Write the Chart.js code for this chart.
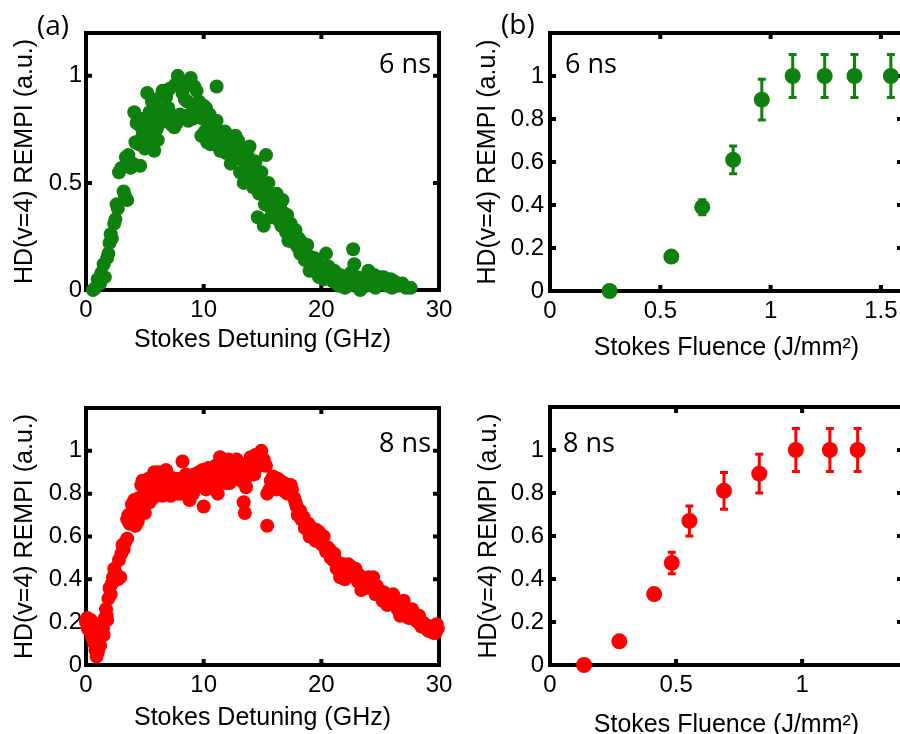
<!DOCTYPE html>
<html>
<head>
<meta charset="utf-8">
<title>HD(v=4) REMPI vs Stokes detuning and fluence</title>
<script src="https://cdn.jsdelivr.net/npm/chart.js@4.4.1/dist/chart.umd.min.js"></script>
<style>
  html, body { margin: 0; padding: 0; background: #fff; }
  #wrap { position: relative; width: 900px; height: 734px; overflow: hidden; }
  #wrap canvas { position: absolute; left: 0; top: 0; }
</style>
</head>
<body>
<div id="wrap">
  <canvas id="panelA6" width="900" height="734"></canvas>
  <canvas id="panelB6" width="920" height="740"></canvas>
  <canvas id="panelA8" width="900" height="734"></canvas>
  <canvas id="panelB8" width="920" height="740"></canvas>
</div>
<script>
// (a) 6 ns: detuning scan
const detuning6 = [
  0.6, 0.8, 1.0, 1.2, 1.3, 1.5, 1.6, 1.8, 1.9, 2.0,
  2.1, 2.2, 2.4, 2.5, 2.6, 2.7, 2.8, 3.0, 3.2, 3.3,
  3.4, 3.5, 3.6, 3.8, 4.0, 4.1, 4.2, 4.3, 4.5, 4.6,
  4.7, 4.8, 4.9, 5.0, 5.1, 5.2, 5.3, 5.5, 5.6, 5.8,
  5.9, 6.0, 6.2, 6.4, 6.5, 6.7, 6.8, 7.0, 7.1, 7.3,
  7.5, 7.6, 7.8, 7.9, 8.1, 8.2, 8.4, 8.5, 8.7, 8.9,
  9.0, 9.2, 9.4, 9.5, 9.7, 9.8, 10.0, 10.2, 10.3, 10.5,
  10.6, 10.8, 11.1, 11.1, 11.3, 11.4, 11.6, 11.8, 12.0, 12.2,
  12.3, 12.5, 12.7, 12.8, 13.0, 13.2, 13.4, 13.5, 13.7, 13.9,
  14.1, 14.3, 14.5, 14.6, 14.8, 15.0, 15.1, 15.3, 15.4, 15.6,
  15.8, 16.0, 16.2, 16.3, 16.5, 16.7, 16.9, 17.1, 17.2, 17.4,
  17.6, 17.8, 18.0, 18.2, 18.4, 18.6, 18.8, 19.0, 19.2, 19.4,
  19.6, 19.8, 20.0, 20.2, 20.4, 20.6, 20.8, 21.0, 21.3, 21.5,
  21.8, 22.0, 22.2, 22.5, 22.7, 22.8, 23.0, 23.3, 23.5, 23.8,
  24.0, 24.2, 24.5, 24.8, 25.0, 25.3, 25.6, 25.9, 26.2, 26.5,
  26.9, 27.2, 27.6,
  4.4, 5.4, 6.1, 6.3, 6.9, 7.2, 7.7, 8.0, 8.3, 8.6,
  9.1, 9.3, 9.6, 9.9, 10.1, 10.4, 10.9, 11.2, 11.5, 11.9,
  12.1, 12.4, 12.6, 12.9, 13.1, 13.3, 13.6, 13.8, 14.0, 14.2,
  14.4, 14.7, 14.9, 15.2, 15.5, 15.7, 16.1, 16.4, 16.6, 16.8,
  17.0, 17.3, 17.7, 18.1, 18.5, 18.9, 19.3, 19.7, 20.1, 20.5,
  21.1, 21.6, 22.3, 23.1, 23.9, 24.6, 25.4, 26.0
];
const rempi6 = [
  0.00, 0.01, 0.05, 0.03, 0.08, 0.12, 0.06, 0.15, 0.17, 0.22,
  0.26, 0.24, 0.31, 0.33, 0.40, 0.38, 0.55, 0.57, 0.46, 0.44,
  0.62, 0.42, 0.63, 0.57, 0.59, 0.83, 0.69, 0.78, 0.68, 0.58,
  0.76, 0.72, 0.80, 0.66, 0.74, 0.92, 0.78, 0.71, 0.88, 0.65,
  0.89, 0.75, 0.82, 0.84, 0.93, 0.79, 0.90, 0.85, 0.94, 0.77,
  0.76, 0.96, 1.00, 0.80, 0.97, 0.92, 0.89, 0.81, 0.79, 0.99,
  0.83, 0.95, 0.93, 0.81, 0.84, 0.72, 0.86, 0.85, 0.69, 0.82,
  0.68, 0.76, 0.95, 0.79, 0.74, 0.65, 0.72, 0.74, 0.67, 0.69,
  0.59, 0.71, 0.72, 0.65, 0.68, 0.61, 0.50, 0.66, 0.58, 0.67,
  0.55, 0.54, 0.56, 0.34, 0.50, 0.47, 0.30, 0.63, 0.45, 0.39,
  0.44, 0.36, 0.45, 0.33, 0.40, 0.42, 0.30, 0.35, 0.23, 0.31,
  0.26, 0.28, 0.20, 0.17, 0.22, 0.14, 0.21, 0.09, 0.12, 0.15,
  0.14, 0.06, 0.11, 0.05, 0.17, 0.11, 0.08, 0.04, 0.06, 0.02,
  0.05, 0.01, 0.05, 0.08, 0.19, 0.12, 0.03, 0.00, 0.05, 0.02,
  0.09, 0.04, 0.07, 0.03, 0.06, 0.06, 0.02, 0.05, 0.04, 0.02,
  0.03, 0.01, 0.01,
  0.80, 0.83, 0.70, 0.78, 0.80, 0.82, 0.78, 0.82, 0.95, 0.88,
  0.80, 0.86, 0.88, 0.80, 0.74, 0.78, 0.70, 0.68, 0.70, 0.64,
  0.72, 0.66, 0.62, 0.70, 0.55, 0.64, 0.52, 0.62, 0.60, 0.48,
  0.60, 0.45, 0.55, 0.40, 0.50, 0.34, 0.40, 0.38, 0.30, 0.36,
  0.27, 0.25, 0.22, 0.24, 0.17, 0.16, 0.09, 0.10, 0.08, 0.07,
  0.09, 0.07, 0.02, 0.06, 0.06, 0.01, 0.03, 0.01
];

// (a) 8 ns: detuning scan
const detuning8 = [
  0.1, 0.2, 0.3, 0.4, 0.5, 0.6, 0.7, 0.8, 0.9, 1.0,
  1.1, 1.2, 1.3, 1.4, 1.5, 1.6, 1.7, 1.8, 1.9, 2.0,
  2.1, 2.2, 2.4, 2.5, 2.7, 2.9, 3.0, 3.2, 3.3, 3.5,
  3.5, 3.7, 3.9, 4.0, 4.2, 4.4, 4.5, 4.7, 4.9, 5.0,
  5.2, 5.4, 5.6, 5.8, 6.0, 6.2, 6.4, 6.6, 6.8, 7.0,
  7.2, 7.4, 7.6, 7.8, 8.0, 8.2, 8.4, 8.6, 8.8, 9.0,
  9.2, 9.4, 9.6, 9.8, 10.0, 10.2, 10.4, 10.6, 10.8, 11.0,
  11.2, 11.4, 11.6, 11.8, 12.0, 12.2, 12.4, 12.6, 12.8, 13.0,
  13.2, 13.4, 13.5, 13.6, 13.8, 14.0, 14.2, 14.4, 14.6, 14.9,
  15.1, 15.3, 15.4, 15.4, 15.7, 15.9, 16.2, 16.5, 16.8, 17.1,
  17.4, 17.7, 17.9, 18.2, 18.5, 18.7, 19.0, 19.2, 19.5, 19.8,
  20.1, 20.4, 20.7, 21.0, 21.3, 21.6, 21.9, 22.2, 22.5, 22.8,
  23.1, 23.4, 23.7, 24.0, 24.3, 24.6, 24.9, 25.2, 25.5, 25.8,
  26.1, 26.4, 26.7, 27.0, 27.3, 27.6, 27.9, 28.2, 28.5, 28.8,
  29.1, 29.4, 29.7, 29.9,
  2.3, 2.8, 3.1, 3.6, 4.1, 4.3, 4.6, 4.8, 5.1, 5.3,
  5.5, 5.7, 5.9, 6.1, 6.3, 6.5, 6.7, 6.9, 7.1, 7.3,
  7.5, 7.7, 7.9, 8.1, 8.3, 8.5, 8.7, 8.9, 9.1, 9.3,
  9.5, 9.7, 9.9, 10.1, 10.3, 10.5, 10.7, 10.9, 11.1, 11.3,
  11.5, 11.7, 11.9, 12.1, 12.3, 12.5, 12.7, 12.9, 13.1, 13.7,
  13.9, 14.1, 14.3, 14.5, 14.7, 15.6, 16.0, 16.3, 16.6, 16.9,
  17.2, 17.5, 17.8, 18.0, 18.3, 18.6, 18.9, 19.3, 19.6, 19.9,
  20.2, 20.5, 20.8, 21.1, 21.4, 21.7, 22.0, 22.3, 22.6, 22.9,
  23.2, 23.5, 23.8, 24.1, 24.4, 24.7, 25.0, 25.3, 25.6, 25.9,
  26.2, 26.5, 26.8, 27.1, 27.4, 27.7, 28.0, 28.3, 28.6, 28.9,
  29.2, 29.5, 29.8, 0.0, 0.15, 0.35, 0.55, 0.75, 1.05, 1.25,
  1.45, 1.75
];
const rempi8 = [
  0.22, 0.19, 0.16, 0.21, 0.13, 0.18, 0.10, 0.07, 0.04, 0.06,
  0.12, 0.09, 0.17, 0.20, 0.14, 0.22, 0.26, 0.21, 0.31, 0.36,
  0.33, 0.38, 0.45, 0.43, 0.40, 0.41, 0.52, 0.54, 0.57, 0.59,
  0.68, 0.66, 0.75, 0.73, 0.65, 0.67, 0.78, 0.84, 0.79, 0.71,
  0.82, 0.76, 0.86, 0.90, 0.84, 0.80, 0.88, 0.85, 0.91, 0.82,
  0.79, 0.86, 0.83, 0.80, 0.87, 0.95, 0.84, 0.81, 0.77, 0.85,
  0.89, 0.83, 0.90, 0.86, 0.74, 0.82, 0.92, 0.88, 0.84, 0.93,
  0.80, 0.97, 0.86, 0.89, 0.92, 0.85, 0.95, 0.91, 0.96, 0.88,
  0.86, 0.76, 0.71, 0.83, 0.94, 0.97, 0.92, 0.98, 0.95, 1.00,
  0.96, 0.93, 0.80, 0.65, 0.86, 0.88, 0.82, 0.86, 0.85, 0.80,
  0.84, 0.78, 0.74, 0.72, 0.69, 0.66, 0.60, 0.64, 0.58, 0.62,
  0.56, 0.53, 0.54, 0.49, 0.45, 0.41, 0.47, 0.44, 0.46, 0.42,
  0.39, 0.35, 0.38, 0.41, 0.37, 0.33, 0.35, 0.30, 0.31, 0.29,
  0.33, 0.27, 0.23, 0.30, 0.25, 0.22, 0.24, 0.20, 0.18, 0.19,
  0.16, 0.17, 0.15, 0.17,
  0.41, 0.49, 0.56, 0.70, 0.77, 0.72, 0.74, 0.86, 0.77, 0.87,
  0.81, 0.78, 0.85, 0.90, 0.83, 0.79, 0.87, 0.84, 0.88, 0.83,
  0.81, 0.87, 0.84, 0.80, 0.86, 0.89, 0.84, 0.82, 0.80, 0.86,
  0.84, 0.88, 0.91, 0.86, 0.88, 0.85, 0.90, 0.87, 0.89, 0.92,
  0.88, 0.93, 0.85, 0.96, 0.90, 0.88, 0.93, 0.92, 0.94, 0.88,
  0.90, 0.95, 0.89, 0.96, 0.93, 0.82, 0.85, 0.87, 0.83, 0.81,
  0.84, 0.82, 0.76, 0.70, 0.68, 0.64, 0.66, 0.61, 0.63, 0.58,
  0.60, 0.55, 0.50, 0.52, 0.48, 0.44, 0.40, 0.47, 0.43, 0.45,
  0.42, 0.40, 0.36, 0.38, 0.41, 0.37, 0.33, 0.34, 0.28, 0.32,
  0.30, 0.26, 0.28, 0.27, 0.22, 0.26, 0.21, 0.23, 0.20, 0.17,
  0.18, 0.15, 0.19, 0.20, 0.17, 0.19, 0.15, 0.14, 0.09, 0.13,
  0.17, 0.23
];

// (b) fluence scans with error bars
const fluence6 = [0.27, 0.55, 0.69, 0.83, 0.96, 1.10, 1.245, 1.38, 1.545];
const fluRempi6 = [0.00, 0.16, 0.39, 0.61, 0.89, 1.00, 1.00, 1.00, 1.00];
const fluErr6 = [0, 0, 0.035, 0.065, 0.095, 0.10, 0.10, 0.10, 0.10];

const fluence8 = [0.135, 0.275, 0.413, 0.483, 0.553, 0.69, 0.83, 0.975, 1.11, 1.22];
const fluRempi8 = [0.00, 0.11, 0.33, 0.475, 0.67, 0.81, 0.89, 1.00, 1.00, 1.00];
const fluErr8 = [0, 0, 0, 0.05, 0.07, 0.085, 0.09, 0.10, 0.10, 0.10];

const detuningTicks = [0, 10, 20, 30];
const fluenceTicks6 = [0, 0.5, 1, 1.5];
const fluenceTicks8 = [0, 0.5, 1];
const yTicksA6 = [0, 0.5, 1];
const yTicksFine = [0, 0.2, 0.4, 0.6, 0.8, 1];

const GREEN = 'rgb(14,128,14)';
const RED = 'rgb(255,0,0)';
const AXIS_FONT = "'Liberation Sans', Arial, sans-serif";
const NOTE_FONT = "'Open Sans', 'Noto Sans', sans-serif";

const toPoints = (xs, ys) => xs.map((x, i) => ({ x: x, y: ys[i] }));

// MATLAB style box with inward tick marks, drawn under the markers
const framePlugin = {
    id: 'frame',
    beforeDatasetsDraw(chart) {
        const { ctx, chartArea: a, scales: { x, y } } = chart;
        ctx.save();
        ctx.strokeStyle = '#000';
        ctx.lineWidth = 4;
        ctx.strokeRect(a.left, a.top, a.right - a.left, a.bottom - a.top);
        ctx.beginPath();
        x.ticks.forEach(t => {
            const px = x.getPixelForValue(t.value);
            ctx.moveTo(px, a.bottom); ctx.lineTo(px, a.bottom - 6);
            ctx.moveTo(px, a.top); ctx.lineTo(px, a.top + 6);
        });
        y.ticks.forEach(t => {
            const py = y.getPixelForValue(t.value);
            ctx.moveTo(a.left, py); ctx.lineTo(a.left + 6, py);
            ctx.moveTo(a.right, py); ctx.lineTo(a.right - 6, py);
        });
        ctx.stroke();
        ctx.restore();
    }
};

const errorBarPlugin = {
    id: 'errorBars',
    beforeDatasetsDraw(chart) {
        const { ctx, scales: { x, y } } = chart;
        chart.data.datasets.forEach(ds => {
            if (!ds.errors) return;
            ctx.save();
            ctx.strokeStyle = ds.backgroundColor;
            ctx.lineWidth = 3;
            ds.data.forEach((p, i) => {
                const e = ds.errors[i];
                if (!e) return;
                const px = x.getPixelForValue(p.x);
                const top = y.getPixelForValue(p.y + e);
                const bot = y.getPixelForValue(p.y - e);
                ctx.beginPath();
                ctx.moveTo(px, top); ctx.lineTo(px, bot);
                ctx.moveTo(px - 4, top); ctx.lineTo(px + 4, top);
                ctx.moveTo(px - 4, bot); ctx.lineTo(px + 4, bot);
                ctx.stroke();
            });
            ctx.restore();
        });
    }
};

const notePlugin = {
    id: 'notes',
    afterDraw(chart, args, opts) {
        const ctx = chart.ctx;
        ctx.save();
        ctx.fillStyle = '#000';
        ctx.textBaseline = 'alphabetic';
        (opts.items || []).forEach(it => {
            ctx.font = it.size + 'px ' + NOTE_FONT;
            ctx.textAlign = it.align;
            ctx.fillText(it.text, it.x, it.y);
        });
        ctx.restore();
    }
};

function makePanel(id, p) {
    return new Chart(document.getElementById(id), {
        type: 'scatter',
        data: {
            datasets: [{
                data: toPoints(p.xs, p.ys),
                errors: p.errs,
                backgroundColor: p.color,
                borderWidth: 0,
                pointRadius: p.radius,
                pointHoverRadius: p.radius,
                clip: false
            }]
        },
        options: {
            responsive: false,
            animation: false,
            devicePixelRatio: 1,
            events: [],
            layout: { padding: p.pad, autoPadding: false },
            plugins: {
                legend: { display: false },
                tooltip: { enabled: false },
                notes: { items: p.notes }
            },
            scales: {
                x: {
                    type: 'linear',
                    min: 0,
                    max: p.xMax,
                    afterBuildTicks: s => { s.ticks = p.xTicks.map(v => ({ value: v })); },
                    afterFit: s => { s.height = p.xH; s.paddingLeft = 0; s.paddingRight = 0; },
                    grid: { display: false, drawTicks: false },
                    border: { display: false },
                    ticks: {
                        autoSkip: false, maxRotation: 0, padding: 6, color: '#000',
                        font: { family: AXIS_FONT, size: 24 },
                        callback: v => String(v)
                    },
                    title: {
                        display: true, text: p.xTitle, color: '#000',
                        font: { family: AXIS_FONT, size: 25 },
                        padding: { top: 0, bottom: 0 }
                    }
                },
                y: {
                    type: 'linear',
                    min: 0,
                    max: 1.2,
                    afterBuildTicks: s => { s.ticks = p.yTicks.map(v => ({ value: v })); },
                    afterFit: s => { s.width = p.yW; s.paddingTop = 0; s.paddingBottom = 0; },
                    grid: { display: false, drawTicks: false },
                    border: { display: false },
                    ticks: {
                        autoSkip: false, padding: p.yPad, color: '#000',
                        font: { family: AXIS_FONT, size: 24 },
                        callback: v => String(v)
                    },
                    title: {
                        display: true, text: 'HD(v=4) REMPI (a.u.)', color: '#000',
                        font: { family: AXIS_FONT, size: 25 },
                        padding: { top: p.yTitlePad, bottom: 0 }
                    }
                }
            }
        },
        plugins: [framePlugin, errorBarPlugin, notePlugin]
    });
}

makePanel('panelA6', {
    xs: detuning6, ys: rempi6, color: GREEN, radius: 7,
    xMax: 30, xTicks: detuningTicks, yTicks: yTicksA6,
    xTitle: 'Stokes Detuning (GHz)',
    pad: { left: 0, top: 33, right: 461, bottom: 379 }, xH: 65, yW: 86, yPad: 4, yTitlePad: 10,
    notes: [
        { text: '(a)', x: 37, y: 35, size: 28, align: 'left' },
        { text: '6 ns', x: 431, y: 73, size: 27, align: 'right' }
    ]
});

// right-hand panels live on 920x740 canvases so their right frame edge sits just past the visible window
makePanel('panelB6', {
    xs: fluence6, ys: fluRempi6, errs: fluErr6, color: GREEN, radius: 8,
    xMax: 1.6, xTicks: fluenceTicks6, yTicks: yTicksFine,
    xTitle: 'Stokes Fluence (J/mm²)',
    pad: { left: 450, top: 33, right: 17, bottom: 377 }, xH: 72, yW: 100, yPad: 6, yTitlePad: 23,
    notes: [
        { text: '(b)', x: 501, y: 34, size: 28, align: 'left' },
        { text: '6 ns', x: 565, y: 73, size: 27, align: 'left' }
    ]
});

makePanel('panelA8', {
    xs: detuning8, ys: rempi8, color: RED, radius: 7,
    xMax: 30, xTicks: detuningTicks, yTicks: yTicksFine,
    xTitle: 'Stokes Detuning (GHz)',
    pad: { left: 0, top: 408, right: 461, bottom: 1 }, xH: 68, yW: 86, yPad: 4, yTitlePad: 10,
    notes: [
        { text: '8 ns', x: 431, y: 452, size: 27, align: 'right' }
    ]
});

makePanel('panelB8', {
    xs: fluence8, ys: fluRempi8, errs: fluErr8, color: RED, radius: 8,
    xMax: 1.4, xTicks: fluenceTicks8, yTicks: yTicksFine,
    xTitle: 'Stokes Fluence (J/mm²)',
    pad: { left: 450, top: 407, right: 17, bottom: 0 }, xH: 75, yW: 100, yPad: 6, yTitlePad: 24,
    notes: [
        { text: '8 ns', x: 563, y: 452, size: 27, align: 'left' }
    ]
});
</script>
</body>
</html>
